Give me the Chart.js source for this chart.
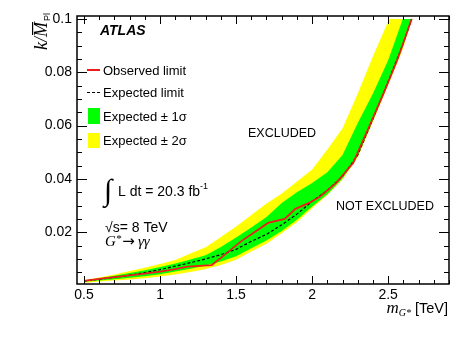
<!DOCTYPE html>
<html>
<head>
<meta charset="utf-8">
<script src="https://cdn.jsdelivr.net/npm/chart.js@4"></script>
<style>
html, body { margin: 0; padding: 0; background: #fff; }
canvas { display: block; }
</style>
</head>
<body>
<canvas id="limitChart" width="473" height="339"></canvas>
<script>
// graviton mass [TeV] and 95% CL limits on k/MPl
const obsMass  = [0.5, 0.6, 0.7, 0.8, 0.9, 1.0, 1.1, 1.18, 1.34, 1.40, 1.53, 1.71, 1.82, 1.89, 1.98, 2.05, 2.16, 2.27, 2.37, 2.47, 2.56, 2.655];
const obsLimit = [0.0018, 0.0025, 0.0032, 0.0038, 0.0045, 0.0052, 0.0062, 0.0071, 0.0077, 0.0104, 0.0165, 0.0235, 0.0250, 0.0288, 0.0310, 0.0333, 0.0386, 0.0460, 0.0590, 0.0721, 0.0846, 0.1000];

const expMass   = [0.5, 0.6, 0.7, 0.8, 0.9, 1.0, 1.1, 1.2, 1.3, 1.4, 1.5, 1.6, 1.7, 1.8, 1.9, 2.0, 2.1, 2.2, 2.3, 2.4, 2.5, 2.6, 2.655];
const expLimit  = [0.0017, 0.0024, 0.0031, 0.0039, 0.0049, 0.0060, 0.0073, 0.0086, 0.0100, 0.0116, 0.0136, 0.0166, 0.0192, 0.0228, 0.0268, 0.0316, 0.0357, 0.0410, 0.0490, 0.0625, 0.0765, 0.0910, 0.1000];
const minus1Limit = [0.0014, 0.0019, 0.0024, 0.0029, 0.0035, 0.0043, 0.0053, 0.0063, 0.0075, 0.0090, 0.0110, 0.0140, 0.0169, 0.0205, 0.0247, 0.0297, 0.0343, 0.0402, 0.0485, 0.0620, 0.0758, 0.0900, 0.1000];
const minus2Limit = [0.0011, 0.0015, 0.0019, 0.0023, 0.0028, 0.0034, 0.0042, 0.0051, 0.0062, 0.0077, 0.0097, 0.0128, 0.0157, 0.0196, 0.0238, 0.0290, 0.0340, 0.0398, 0.0480, 0.0615, 0.0752, 0.0892, 0.1000];

const plus1Mass  = [0.5, 0.6, 0.7, 0.8, 0.9, 1.0, 1.1, 1.2, 1.3, 1.4, 1.5, 1.6, 1.7, 1.8, 1.9, 2.0, 2.1, 2.2, 2.3, 2.4, 2.5, 2.596];
const plus1Limit = [0.0019, 0.0028, 0.0037, 0.0047, 0.0058, 0.0070, 0.0083, 0.0098, 0.0114, 0.0145, 0.0180, 0.0218, 0.0257, 0.0310, 0.0350, 0.0385, 0.0425, 0.0490, 0.0610, 0.0720, 0.0845, 0.1000];
const plus2Mass  = [0.5, 0.6, 0.7, 0.8, 0.9, 1.0, 1.1, 1.2, 1.3, 1.4, 1.5, 1.6, 1.7, 1.8, 1.9, 2.0, 2.1, 2.2, 2.3, 2.4, 2.507];
const plus2Limit = [0.0020, 0.0030, 0.0042, 0.0055, 0.0067, 0.0081, 0.0096, 0.0120, 0.0144, 0.0182, 0.0222, 0.0265, 0.0308, 0.0345, 0.0390, 0.0435, 0.0510, 0.0590, 0.0720, 0.0860, 0.1000];

const xTickValues = [0.5, 1, 1.5, 2, 2.5];
const xTickLabels = ['0.5', '1', '1.5', '2', '2.5'];
const yTickValues = [0.02, 0.04, 0.06, 0.08, 0.1];
const yTickLabels = ['0.02', '0.04', '0.06', '0.08', '0.1'];

const legendLabels = ['Observed limit', 'Expected limit', 'Expected \u00b1 1\u03c3', 'Expected \u00b1 2\u03c3'];

const SANS = "'Liberation Sans', Arial, Helvetica, sans-serif";
const SERIF = "'Liberation Serif', 'Times New Roman', serif";
const RED = '#ee1c1c';

const pts = (xs, ys) => xs.map((m, i) => ({ x: m, y: ys[i] }));
// closed polygon: upper edge forward, lower edge back
const band = (upM, upV, loM, loV) => pts(upM, upV).concat(pts(loM, loV).reverse());

// draw a row of text pieces with different fonts
function runs(ctx, list, x, y, align) {
  let w = 0;
  list.forEach(r => { ctx.font = r.font; w += ctx.measureText(r.t).width + (r.gap || 0); });
  let cx = align === 'right' ? x - w : x;
  ctx.textAlign = 'left';
  list.forEach(r => {
    ctx.font = r.font;
    ctx.fillText(r.t, cx, y + (r.dy || 0));
    if (r.bar) {
      const bw = ctx.measureText(r.t).width;
      ctx.fillRect(cx + r.bar[0], y - r.bar[1], bw - r.bar[0], 1.2);
    }
    cx += ctx.measureText(r.t).width + (r.gap || 0);
  });
}

const decor = {
  id: 'decor',
  afterDraw(chart) {
    const { ctx, chartArea: a, scales: { x, y } } = chart;
    ctx.save();
    ctx.strokeStyle = '#000';
    ctx.fillStyle = '#000';

    // inner ticks on all four sides
    ctx.lineWidth = 1;
    ctx.beginPath();
    for (let v = 0.5; v <= 2.9001; v += 0.1) {
      const px = Math.round(x.getPixelForValue(v)) + 0.5;
      const major = xTickValues.some(t => Math.abs(t - v) < 1e-6);
      const len = major ? 8 : 4;
      ctx.moveTo(px, a.bottom); ctx.lineTo(px, a.bottom - len);
      ctx.moveTo(px, a.top); ctx.lineTo(px, a.top + len);
    }
    for (let v = 0.005; v <= 0.1001; v += 0.005) {
      const py = Math.round(y.getPixelForValue(v)) + 0.5;
      const major = yTickValues.some(t => Math.abs(t - v) < 1e-6);
      const len = major ? 10 : 5;
      ctx.moveTo(a.left, py); ctx.lineTo(a.left + len, py);
      ctx.moveTo(a.right, py); ctx.lineTo(a.right - len, py);
    }
    ctx.stroke();

    ctx.lineWidth = 1.5;
    ctx.strokeRect(a.left, a.top, a.right - a.left, a.bottom - a.top);

    ctx.textBaseline = 'alphabetic';
    // ATLAS label
    ctx.font = 'italic bold 14px ' + SANS;
    ctx.fillText('ATLAS', 100, 35);

    // legend
    ctx.strokeStyle = RED;
    ctx.lineWidth = 2;
    ctx.beginPath(); ctx.moveTo(87, 70); ctx.lineTo(100, 70); ctx.stroke();
    ctx.strokeStyle = '#000';
    ctx.lineWidth = 1.2;
    ctx.setLineDash([3, 2]);
    ctx.beginPath(); ctx.moveTo(87, 92.5); ctx.lineTo(100, 92.5); ctx.stroke();
    ctx.setLineDash([]);
    ctx.fillStyle = '#00ff00'; ctx.fillRect(88, 108, 12, 16);
    ctx.fillStyle = '#ffff00'; ctx.fillRect(88, 133, 12, 15);
    ctx.fillStyle = '#000';
    ctx.font = '13px ' + SANS;
    const ly = [75, 97, 121, 145];
    legendLabels.forEach((t, i) => ctx.fillText(t, 103, ly[i]));

    // region labels
    ctx.font = '12.5px ' + SANS;
    ctx.fillText('EXCLUDED', 248, 137);
    ctx.fillText('NOT EXCLUDED', 336, 210);

    // luminosity, energy, process
    ctx.font = '30px ' + SERIF;
    ctx.fillText('\u222b', 104, 200);
    runs(ctx, [
      { t: 'L dt = 20.3 fb', font: '14px ' + SANS },
      { t: '-1', font: '9px ' + SANS, dy: -7 }
    ], 118, 196);
    runs(ctx, [
      { t: '\u221as= 8 TeV', font: '14px ' + SANS }
    ], 105, 232);
    runs(ctx, [
      { t: 'G', font: 'italic 15px ' + SERIF },
      { t: '*', font: 'italic 11px ' + SERIF, dy: -4, gap: 1 },
      { t: '\u2192', font: "15px 'DejaVu Sans', sans-serif", gap: 3 },
      { t: '\u03b3\u03b3', font: 'italic 15px ' + SERIF }
    ], 105, 246);

    // x axis title
    runs(ctx, [
      { t: 'm', font: 'italic 17px ' + SERIF },
      { t: 'G*', font: 'italic 10px ' + SERIF, dy: 3, gap: 4 },
      { t: '[TeV]', font: '14.5px ' + SANS }
    ], 448, 313, 'right');

    // y axis title (rotated)
    ctx.translate(47, 13);
    ctx.rotate(-Math.PI / 2);
    runs(ctx, [
      { t: 'k/', font: 'italic 18px ' + SERIF },
      { t: 'M', font: 'italic 18px ' + SERIF, bar: [2, 15], gap: 1 },
      { t: 'Pl', font: '9px ' + SANS, dy: 3 }
    ], 0, 0, 'right');
    ctx.restore();
  }
};

new Chart(document.getElementById('limitChart').getContext('2d'), {
  type: 'line',
  data: {
    datasets: [
      {
        label: legendLabels[0],
        data: pts(obsMass, obsLimit),
        borderColor: RED,
        borderWidth: 1.8,
        pointRadius: 0,
        fill: false
      },
      {
        label: legendLabels[1],
        data: pts(expMass, expLimit),
        borderColor: '#000',
        borderWidth: 1.2,
        borderDash: [3, 2],
        pointRadius: 0,
        fill: false
      },
      {
        label: legendLabels[2],
        data: band(plus1Mass, plus1Limit, expMass, minus1Limit),
        borderWidth: 0,
        backgroundColor: '#00ff00',
        pointRadius: 0,
        fill: 'shape'
      },
      {
        label: legendLabels[3],
        data: band(plus2Mass, plus2Limit, expMass, minus2Limit),
        borderWidth: 0,
        backgroundColor: '#ffff00',
        pointRadius: 0,
        fill: 'shape'
      }
    ]
  },
  options: {
    responsive: false,
    animation: false,
    devicePixelRatio: 1,
    layout: { padding: { left: 0, right: 24, top: 16, bottom: 0 } },
    plugins: { legend: { display: false }, tooltip: { enabled: false } },
    scales: {
      x: {
        type: 'linear',
        min: 0.454,
        max: 2.9,
        afterBuildTicks: s => { s.ticks = xTickValues.map(v => ({ value: v })); },
        afterFit: s => { s.height = 55; },
        grid: { display: false, drawTicks: false },
        border: { display: false },
        ticks: {
          autoSkip: false,
          maxRotation: 0,
          padding: 3,
          color: '#000',
          font: { family: SANS, size: 14 },
          callback: (v, i) => xTickLabels[i]
        }
      },
      y: {
        min: 0.0006,
        max: 0.1011,
        afterBuildTicks: s => { s.ticks = yTickValues.map(v => ({ value: v })); },
        afterFit: s => { s.width = 77; },
        grid: { display: false, drawTicks: false },
        border: { display: false },
        ticks: {
          padding: 5,
          color: '#000',
          font: { family: SANS, size: 14 },
          callback: (v, i) => yTickLabels[i]
        }
      }
    }
  },
  plugins: [decor]
});
</script>
</body>
</html>
